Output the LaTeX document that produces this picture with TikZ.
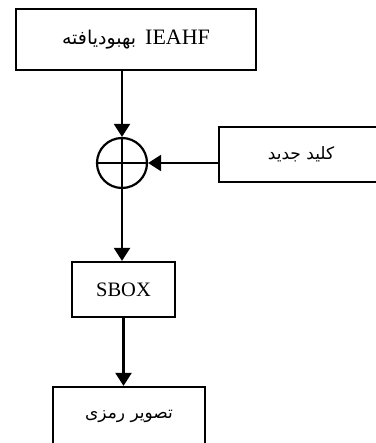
\documentclass[tikz,border=0pt]{standalone}
\usepackage{fontspec}
\setmainfont{Liberation Serif}
\newfontfamily\farsi[Script=Arabic]{DejaVu Sans}
\TeXXeTstate=1
\usetikzlibrary{arrows.meta}
\tikzset{
    blk/.style={draw,line width=2.2pt,inner sep=0pt},
    flow/.style={line width=2.2pt,-{Triangle[length=13pt,width=16pt]}}
}
\begin{document}
\begin{tikzpicture}[x=1pt,y=-1pt]
    \useasboundingbox (0,0) rectangle (375,443);

    \node (top) at (136,39.5) [blk,minimum width=240pt,minimum height=61pt] {\fontsize{19}{22}\selectfont\farsi\beginR\beginL{\fontsize{22}{24}\selectfont\rmfamily IEAHF}\endL\hspace{9pt}بهبودیافته\endR};
    \node (xor) at (122,163) [blk,circle,minimum size=50pt] {};
    \draw[line width=2.2pt] (xor.north) -- (xor.south) (xor.west) -- (xor.east);
    \node (key) at (301,154.5) [blk,minimum width=164pt,minimum height=55pt] {\fontsize{17}{20}\selectfont\farsi\beginR کلید جدید\endR};
    \node (sbox) at (123.5,289.5) [blk,minimum width=103pt,minimum height=55pt] {\fontsize{20.5}{24}\selectfont SBOX};
    \node (out) at (129,416) [blk,minimum width=152pt,minimum height=58pt] {\fontsize{17}{20}\selectfont\farsi\beginR تصویر رمزی\endR};

    \draw[flow] (top.south -| xor) -- (xor.north);
    \draw[flow] (key.west |- xor) -- (xor.east);
    \draw[flow] (xor.south) -- (sbox.north -| xor);
    \draw[flow] (sbox.south) -- (out.north -| sbox);
\end{tikzpicture}
\end{document}
